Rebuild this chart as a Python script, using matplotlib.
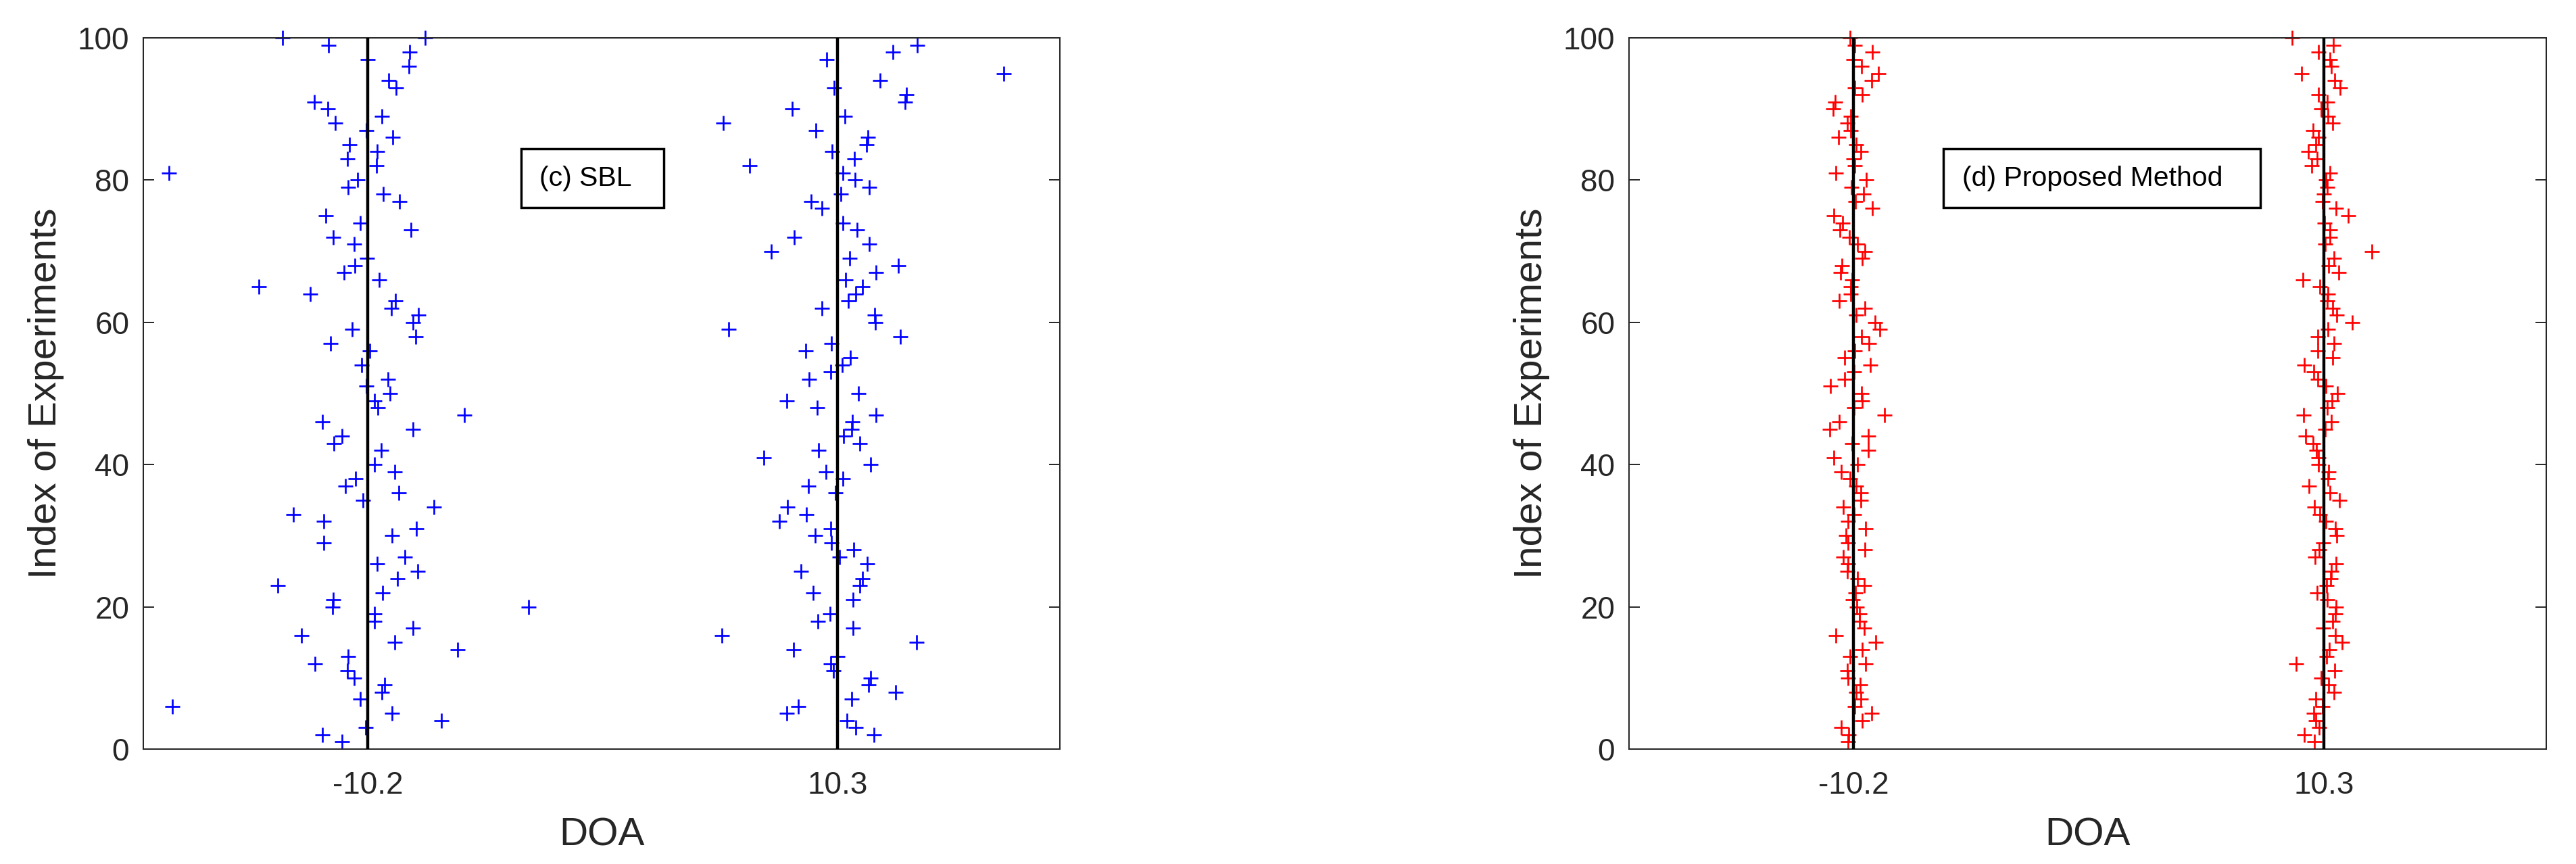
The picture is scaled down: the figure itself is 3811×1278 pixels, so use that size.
import numpy as np
import matplotlib
matplotlib.use("Agg")
import matplotlib.pyplot as plt
from matplotlib.patches import Rectangle

plt.rcParams["font.family"] = ["Liberation Sans", "DejaVu Sans"]

true_doa = [-10.2, 10.3]
y_ticks = [0, 20, 40, 60, 80, 100]
tick_labels = ["-10.2", "10.3"]

# (c) SBL: estimates around the first source (experiment index, DOA)
sbl_s1_idx = [100, 100, 99, 98, 97, 96, 94, 93, 91, 90, 89, 88, 87, 86, 85, 84, 83, 82, 81, 80,
              79, 78, 77, 75, 74, 73, 72, 71, 69, 68, 67, 66, 65, 64, 63, 62, 61, 60, 59, 58,
              57, 56, 54, 52, 51, 50, 49, 48, 47, 46, 45, 44, 43, 42, 40, 39, 38, 37, 36, 35,
              34, 33, 32, 31, 30, 29, 27, 26, 25, 24, 23, 22, 21, 20, 20, 19, 18, 17, 16, 15,
              14, 13, 12, 11, 10, 9, 8, 7, 6, 5, 4, 3, 2, 1]
sbl_s1_doa = [-13.93, -7.70, -11.92, -8.37, -10.20, -8.40, -9.29, -8.96, -12.53, -11.96,
              -9.58, -11.62, -10.26, -9.11, -10.99, -9.80, -11.09, -9.81, -18.88, -10.66,
              -11.06, -9.53, -8.82, -12.05, -10.52, -8.31, -11.70, -10.79, -10.23, -10.76,
              -11.25, -9.70, -14.96, -12.71, -9.01, -9.17, -7.99, -8.23, -10.89, -8.12,
              -11.82, -10.12, -10.46, -9.32, -10.28, -9.23, -9.92, -9.77, -5.99, -12.19,
              -8.23, -11.33, -11.67, -9.62, -9.90, -9.02, -10.73, -11.18, -8.84, -10.42,
              -7.32, -13.45, -12.12, -8.07, -9.14, -12.13, -8.58, -9.78, -8.02, -8.92,
              -14.14, -9.55, -11.72, -11.73, -3.19, -9.90, -9.90, -8.22, -13.09, -9.04,
              -6.28, -11.06, -12.52, -11.08, -10.79, -9.46, -9.59, -10.52, -18.73, -9.14,
              -6.99, -10.29, -12.19, -11.34]

# (c) SBL: estimates around the second source
sbl_s2_idx = [99, 98, 97, 95, 94, 93, 92, 91, 90, 89, 88, 87, 86, 85, 84, 83, 82, 81, 80, 79,
              78, 77, 76, 74, 73, 72, 71, 70, 69, 68, 67, 66, 65, 64, 63, 62, 61, 60, 59, 58,
              57, 56, 55, 54, 53, 52, 50, 49, 48, 47, 46, 45, 44, 43, 42, 41, 40, 39, 38, 37,
              36, 34, 33, 32, 31, 30, 29, 28, 27, 26, 25, 24, 23, 22, 21, 19, 18, 17, 16, 15,
              14, 13, 12, 11, 10, 9, 8, 7, 6, 5, 4, 3, 2]
sbl_s2_doa = [13.78, 12.70, 9.82, 17.54, 12.15, 10.14, 13.30, 13.25, 8.31, 10.63,
              5.30, 9.36, 11.62, 11.56, 10.07, 11.02, 6.45, 10.52, 11.06, 11.67,
              10.43, 9.13, 9.61, 10.52, 11.15, 8.41, 11.67, 7.40, 10.82, 12.96,
              11.99, 10.65, 11.40, 11.10, 10.77, 9.61, 11.92, 11.95, 5.56, 13.05,
              10.04, 8.90, 10.87, 10.50, 10.00, 9.07, 11.22, 8.08, 9.42, 11.99,
              10.93, 10.91, 10.55, 11.28, 9.48, 7.08, 11.73, 9.79, 10.52, 9.02,
              10.20, 8.10, 8.94, 7.77, 10.01, 9.32, 10.03, 11.00, 10.37, 11.59,
              8.70, 11.40, 11.27, 9.22, 10.98, 9.98, 9.45, 10.96, 5.25, 13.74,
              8.38, 10.30, 10.00, 10.12, 11.74, 11.65, 12.83, 10.90, 8.58, 8.08,
              10.71, 11.08, 11.88]

# (d) Proposed method: one estimate per source for experiments 100 down to 1
prop_idx = list(range(100, 0, -1))
prop_s1_doa = [-10.35, -10.15, -9.40, -10.20, -9.85, -9.13, -9.41, -10.15, -9.84, -11.01,
               -11.09, -10.34, -10.47, -10.33, -10.87, -10.10, -9.88, -10.20, -10.16, -10.97,
               -9.66, -10.31, -9.77, -10.12, -9.38, -11.08, -10.69, -10.79, -10.39, -10.05,
               -9.72, -9.82, -10.72, -10.76, -10.28, -10.34, -10.34, -10.83, -9.72, -10.11,
               -9.26, -9.07, -9.87, -9.53, -10.16, -10.59, -9.47, -10.18, -10.59, -11.21,
               -9.85, -9.82, -10.18, -8.85, -10.83, -11.25, -9.56, -10.27, -9.56, -11.07,
               -10.05, -10.74, -10.36, -10.09, -9.88, -9.88, -10.65, -10.18, -10.45, -9.68,
               -10.55, -10.45, -9.71, -10.65, -10.44, -10.49, -10.05, -9.73, -10.12, -10.25,
               -10.06, -9.94, -9.94, -9.73, -10.98, -9.23, -9.84, -10.36, -9.67, -10.49,
               -10.46, -9.91, -10.09, -9.88, -10.16, -9.43, -9.82, -10.74, -10.43, -10.46]
prop_s2_doa = [8.91, 10.71, 10.08, 10.57, 10.62, 9.32, 10.76, 11.01, 10.06, 10.45,
               10.19, 10.47, 10.70, 9.84, 10.06, 9.96, 9.61, 10.01, 9.77, 10.57,
               10.38, 10.44, 10.30, 10.23, 10.82, 11.35, 10.34, 10.56, 10.56, 10.35,
               12.40, 10.74, 10.51, 10.95, 9.39, 10.14, 10.49, 10.44, 10.70, 10.87,
               11.54, 10.47, 10.03, 10.75, 10.03, 10.70, 9.45, 9.85, 10.05, 10.38,
               10.89, 10.65, 10.44, 9.41, 10.62, 10.35, 9.51, 9.82, 9.99, 10.08,
               10.07, 10.50, 10.47, 9.64, 10.56, 10.98, 9.89, 10.14, 10.38, 10.80,
               10.85, 10.27, 10.09, 9.92, 10.82, 10.62, 10.59, 10.41, 10.01, 10.44,
               10.82, 10.80, 10.70, 10.26, 10.80, 11.10, 10.54, 10.41, 9.10, 10.76,
               10.17, 10.52, 10.74, 9.96, 10.23, 9.87, 9.96, 10.10, 9.46, 9.89]

W, H = 3812, 1278
fig = plt.figure(figsize=(W / 100, H / 100), dpi=100)

panels = [
    {"rect": [212 / W, 170 / H, 1356 / W, 1052 / H], "color": (0, 0, 1),
     "series": [(sbl_s1_idx, sbl_s1_doa), (sbl_s2_idx, sbl_s2_doa)],
     "label": "(c) SBL", "box": (0.412, 0.568)},
    {"rect": [2410 / W, 170 / H, 1357 / W, 1052 / H], "color": (1, 0, 0),
     "series": [(prop_idx, prop_s1_doa), (prop_idx, prop_s2_doa)],
     "label": "(d) Proposed Method", "box": (0.343, 0.688)},
]

axis_col = "#262626"
for p in panels:
    ax = fig.add_axes(p["rect"])
    for idx, doa in p["series"]:
        ax.plot(doa, idx, "+", color=p["color"], markersize=15.5, markeredgewidth=1.95,
                linestyle="none", zorder=2, clip_on=False)
    for d in true_doa:
        ax.plot([d, d], [0, 100], color="black", lw=3.2, zorder=3)

    ax.set_xlim(-20, 20)
    ax.set_ylim(0, 100)
    ax.set_xticks(true_doa)
    ax.set_xticklabels(tick_labels)
    ax.set_yticks(y_ticks)
    ax.tick_params(direction="in", length=11.5, width=1.4, color=axis_col,
                   labelsize=33, labelcolor=axis_col, top=True, right=True)
    ax.tick_params(axis="x", pad=23)
    ax.tick_params(axis="y", pad=15)
    for s in ax.spines.values():
        s.set_linewidth(1.45)
        s.set_color(axis_col)
    ax.set_xlabel("DOA", fontsize=42, color=axis_col, labelpad=18)
    ax.set_ylabel("Index of Experiments", fontsize=42, color=axis_col, labelpad=14)

    x0, x1 = p["box"]
    ax.add_patch(Rectangle((x0, 0.761), x1 - x0, 0.083, transform=ax.transAxes,
                           facecolor="white", edgecolor="black", lw=2.5, zorder=5))
    ax.text(x0 + 0.02, 0.8025, p["label"], transform=ax.transAxes, fontsize=29.5,
            va="center", ha="left", color="black", zorder=6)

fig.savefig("out.png", dpi=100, facecolor="white")
